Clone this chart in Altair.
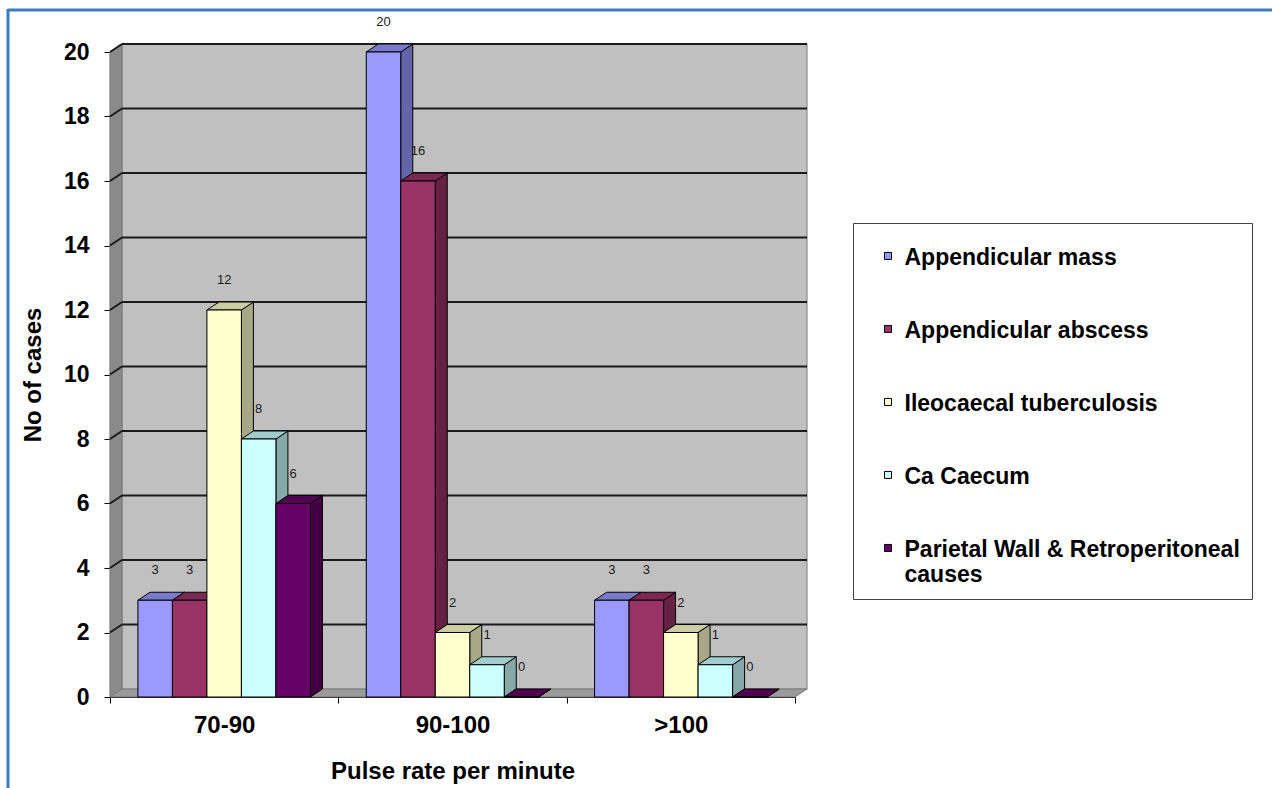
import altair as alt
import pandas as pd

# ---- data -------------------------------------------------------------
CATEGORIES = ["70-90", "90-100", ">100"]
SERIES = [
    "Appendicular mass",
    "Appendicular abscess",
    "Ileocaecal tuberculosis",
    "Ca Caecum",
    "Parietal Wall & Retroperitoneal causes",
]
APPENDICULAR_MASS = [3, 20, 3]
APPENDICULAR_ABSCESS = [3, 16, 3]
ILEOCAECAL_TB = [12, 2, 2]
CA_CAECUM = [8, 1, 1]
PARIETAL_WALL = [6, 0, 0]
VALUES = [APPENDICULAR_MASS, APPENDICULAR_ABSCESS, ILEOCAECAL_TB, CA_CAECUM, PARIETAL_WALL]
Y_TICKS = [0, 2, 4, 6, 8, 10, 12, 14, 16, 18, 20]
LEGEND_LINES = {"Parietal Wall & Retroperitoneal causes": ["Parietal Wall & Retroperitoneal", "causes"]}

# ---- styling ----------------------------------------------------------
FRONT = ["#9999FF", "#993366", "#FFFFCC", "#CCFFFF", "#660066"]
FONT = "Liberation Sans"


def shade(hex_color, f):
    h = hex_color.lstrip("#")
    r, g, b = (int(h[i:i + 2], 16) for i in (0, 2, 4))
    return "#%02x%02x%02x" % (int(r * f), int(g * f), int(b * f))


TOP = [shade(c, 0.8) for c in FRONT]
SIDE = [shade(c, 0.66) for c in FRONT]

W, H = 685, 645
Y_MAX = Y_TICKS[-1]
N_CAT = len(CATEGORIES)
PX_X = W / N_CAT
PX_Y = H / Y_MAX
BAR_W = 34.5 / PX_X          # bar width in x units
DX = 12 / PX_X               # 3-D depth, horizontal
DY = 8 / PX_Y                # 3-D depth, vertical

# ---- geometry tables --------------------------------------------------
fronts, faces = [], []
n_s = len(SERIES)
for ci, cat in enumerate(CATEGORIES):
    for si, name in enumerate(SERIES):
        v = VALUES[si][ci]
        x1 = ci + 0.5 + (si - n_s / 2) * BAR_W
        x2 = x1 + BAR_W
        bid = f"{ci}-{si}"
        fronts.append(dict(series=name, category=cat, value=v, x1=x1, x2=x2, xc=(x1 + x2) / 2))
        # right-hand side face
        faces.append(dict(kind="side", bar=bid, x=x2, y=v, y2=0, fill=SIDE[si]))
        faces.append(dict(kind="side", bar=bid, x=x2 + DX, y=v + DY, y2=DY, fill=SIDE[si]))
        # top face
        for xx, yy, yy2 in [(x1, v, v), (x1 + DX, v + DY, v), (x2, v + DY, v), (x2 + DX, v + DY, v + DY)]:
            faces.append(dict(kind="top", bar=bid, x=xx, y=yy, y2=yy2, fill=TOP[si]))

fronts = pd.DataFrame(fronts)
faces = pd.DataFrame(faces)

walls = pd.DataFrame([
    # left side wall
    dict(part="side", x=0, y=Y_MAX, y2=0, fill="#8a8a8a"),
    dict(part="side", x=DX, y=Y_MAX + DY, y2=DY, fill="#8a8a8a"),
    # floor
    dict(part="floor", x=0, y=0, y2=0, fill="#9a9a9a"),
    dict(part="floor", x=DX, y=DY, y2=0, fill="#9a9a9a"),
    dict(part="floor", x=N_CAT, y=DY, y2=0, fill="#9a9a9a"),
    dict(part="floor", x=N_CAT + DX, y=DY, y2=DY, fill="#9a9a9a"),
])
back = pd.DataFrame([dict(x=DX, x2=N_CAT + DX, y=DY, y2=Y_MAX + DY)])

grid = []
for t in Y_TICKS[1:]:
    grid.append(dict(x=DX, x2=N_CAT + DX, y=t + DY, y2=t + DY))
    grid.append(dict(x=0, x2=DX, y=t, y2=t + DY))
grid = pd.DataFrame(grid)

# ---- scales / axes ----------------------------------------------------
xs = alt.Scale(domain=[0, N_CAT], nice=False, zero=False)
ys = alt.Scale(domain=[0, Y_MAX], nice=False)

cat_js = "[" + ",".join("'%s'" % c for c in CATEGORIES) + "]"
x_axis = alt.Axis(
    values=[i / 2 for i in range(2 * N_CAT + 1)],
    labelExpr=f"datum.value % 1 == 0.5 ? {cat_js}[floor(datum.value)] : ''",
    tickOpacity={"condition": {"test": "datum.value % 1 != 0", "value": 0}, "value": 1},
    labelOverlap=False, labelFlush=False,
    tickSize=6, tickColor="black", domainColor="black", domainWidth=1.2,
    labelFont=FONT, labelFontSize=24, labelFontWeight="bold", labelColor="black", labelPadding=10,
    title="Pulse rate per minute", titleFont=FONT, titleFontSize=24, titleFontWeight="bold",
    titleColor="black", titlePadding=22, grid=False,
)
y_axis = alt.Axis(
    values=Y_TICKS, tickSize=6, tickColor="black", domainColor="black", domainWidth=1.2,
    labelFont=FONT, labelFontSize=23, labelFontWeight="bold", labelColor="black", labelPadding=15,
    title="No of cases", titleFont=FONT, titleFontSize=24, titleFontWeight="bold",
    titleColor="black", titlePadding=18, grid=False,
)


def X(field):
    return alt.X(field, type="quantitative", scale=xs, axis=x_axis)


def Y(field):
    return alt.Y(field, type="quantitative", scale=ys, axis=y_axis, stack=None)


legend_js = " : ".join(
    f"datum.label == '{k}' ? [{', '.join(repr(p) for p in v)}]" for k, v in LEGEND_LINES.items()
) + " : datum.label"

legend = alt.Legend(
    orient="none", legendX=743, legendY=171, direction="vertical", title=None,
    padding=12, strokeColor="#404040", fillColor="white",
    symbolType="M-1,1.7H1V3.7H-1Z", symbolSize=49, symbolStrokeColor="black", symbolStrokeWidth=1,
    symbolOffset=11.5, labelOffset=5,
    labelFont=FONT, labelFontSize=23, labelFontWeight="bold", labelColor="black",
    labelBaseline="top", labelLimit=800, rowPadding=38, labelExpr=legend_js,
)

# ---- layers -----------------------------------------------------------
back_wall = alt.Chart(back).mark_rect(fill="#c0c0c0", stroke="#8a8a8a", strokeWidth=1.2).encode(
    x=X("x"), x2="x2", y=Y("y"), y2="y2")

wall_faces = alt.Chart(walls).mark_area(stroke="#7a7a7a", strokeWidth=1).encode(
    x=X("x"), y=Y("y"), y2="y2", fill=alt.Fill("fill:N", scale=None), detail="part:N")

grid_lines = alt.Chart(grid).mark_rule(color="#1a1a1a", strokeWidth=2).encode(
    x=X("x"), x2="x2", y=Y("y"), y2="y2")

side_faces = alt.Chart(faces[faces.kind == "side"]).mark_area(stroke="black", strokeWidth=1).encode(
    x=X("x"), y=Y("y"), y2="y2", fill=alt.Fill("fill:N", scale=None), detail="bar:N")

top_faces = alt.Chart(faces[faces.kind == "top"]).mark_area(stroke="black", strokeWidth=1).encode(
    x=X("x"), y=Y("y"), y2="y2", fill=alt.Fill("fill:N", scale=None), detail="bar:N")

front_faces = alt.Chart(fronts).mark_rect(stroke="black", strokeWidth=1, opacity=1).encode(
    x=X("x1"), x2="x2", y=Y("value"), y2=alt.datum(0),
    color=alt.Color("series:N", sort=SERIES,
                    scale=alt.Scale(domain=SERIES, range=FRONT), legend=legend))

value_labels = alt.Chart(fronts).mark_text(
    font=FONT, fontSize=13, color="#1a1a1a", dy=-30, baseline="middle", align="center").encode(
    x=X("xc"), y=Y("value"), text="value:Q")

frame_src = alt.Data(values=[{}])
frame_top = alt.Chart(frame_src).mark_rule(color="#3a7cc2", strokeWidth=3).encode(
    x=alt.value(-102), x2=alt.value(1200), y=alt.value(-42))
frame_left = alt.Chart(frame_src).mark_rule(color="#3a7cc2", strokeWidth=3).encode(
    x=alt.value(-102), y=alt.value(-43), y2=alt.value(760))

chart = alt.layer(
    back_wall, wall_faces, grid_lines, side_faces, top_faces, front_faces, value_labels,
    frame_top, frame_left,
).properties(
    width=W, height=H,
    autosize=alt.AutoSizeParams(type="none"),
    padding={"left": 110, "top": 52, "right": 1272 - 110 - W, "bottom": 788 - 52 - H},
    background="white",
).configure_view(stroke=None)

chart.save("out.html", embed_options={"renderer": "svg", "actions": False})
